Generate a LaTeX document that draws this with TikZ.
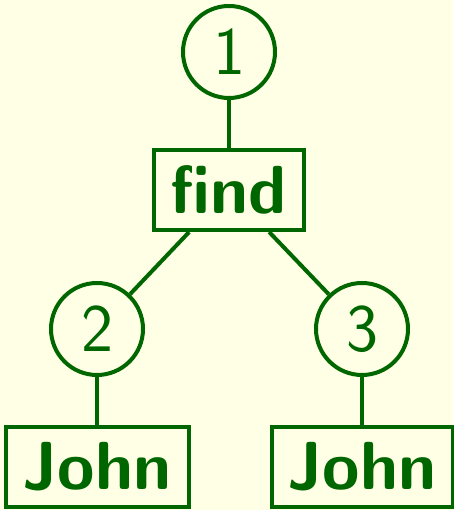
\documentclass[tikz,border=0pt]{standalone}
\usepackage{fontspec}
\usepackage{tikz}
\usetikzlibrary{positioning}
\definecolor{treegreen}{RGB}{0,102,0}
\definecolor{paper}{RGB}{255,255,230}
\tikzstyle{num} = [circle,draw,inner sep=0pt,minimum size=92pt,font=\fontsize{68}{80}\selectfont\sffamily]
\tikzstyle{word} = [rectangle,draw,inner sep=0pt,minimum height=80pt,font=\fontsize{68}{80}\selectfont\sffamily\bfseries]

\begin{document}
\begin{tikzpicture}[x=1pt,y=1pt,line width=4pt,color=treegreen,node distance=48pt]
           \fill[paper] (0,0) rectangle (453,510);
           \useasboundingbox (0,0) rectangle (453,510);
           \node[num] (n1) at (229,458) {1};
           \node[word,minimum width=150pt] (find) [below = of n1] {find} edge [-] (n1);
           \node[num] (n2) [below = 49pt of find, xshift=-132pt] {2} edge [-] (find);
           \node[num] (n3) [below = 49pt of find, xshift=133pt] {3} edge [-] (find);
           \node[word,minimum width=183pt] (john1) [below = of n2] {John} edge [-] (n2);
           \node[word,minimum width=181pt] (john2) [below = of n3] {John} edge [-] (n3);
        \end{tikzpicture}
\end{document}
